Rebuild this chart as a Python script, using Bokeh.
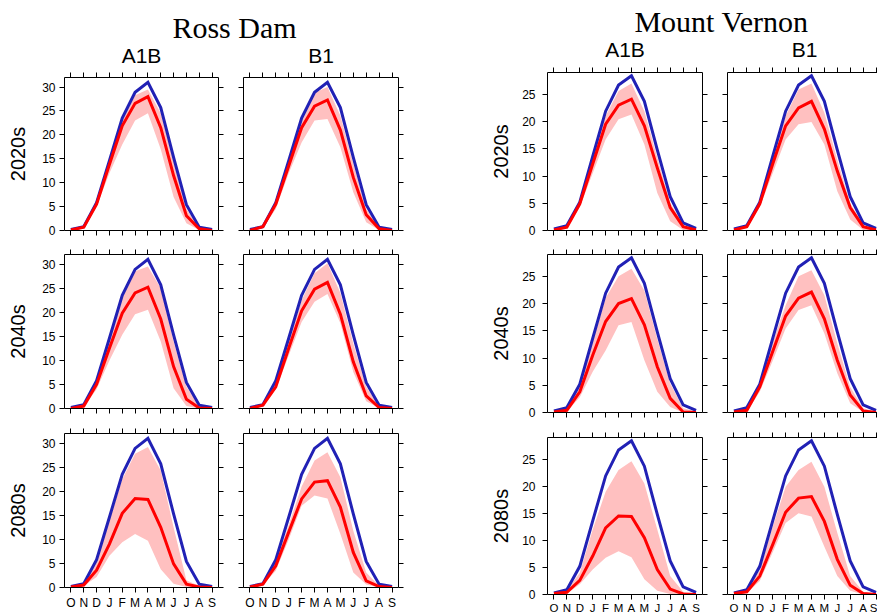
from bokeh.plotting import figure
from bokeh.models import Range1d, FixedTicker, LinearAxis
from bokeh.layouts import row, column
from bokeh.embed import file_html
from bokeh.resources import INLINE
from bokeh.core.properties import value

# ---------------- data ----------------
months = ["O", "N", "D", "J", "F", "M", "A", "M", "J", "J", "A", "S"]
scenarios = ["A1B", "B1"]
periods = ["2020s", "2040s", "2080s"]
ross_yticks = [0, 5, 10, 15, 20, 25, 30]
mv_yticks = [0, 5, 10, 15, 20, 25]

# Ross Dam historical (blue)
ross_hist = [0.2, 0.8, 5.8, 14.6, 23.5, 28.9, 31.0, 25.7, 15.3, 5.4, 0.7, 0.2]
# Ross Dam A1B
ross_a1b_2020_mean = [0.1, 0.7, 5.5, 13.8, 21.9, 26.6, 28.0, 21.5, 11.5, 3.1, 0.35, 0.0]
ross_a1b_2020_hi = [0.2, 0.9, 6.5, 15.0, 23.5, 28.3, 29.5, 24.5, 14.5, 4.5, 0.7, 0.1]
ross_a1b_2020_lo = [0.0, 0.5, 5.0, 12.0, 18.0, 23.0, 24.5, 17.0, 7.0, 1.5, 0.1, 0.0]
ross_a1b_2040_mean = [0.0, 0.5, 5.0, 12.5, 19.8, 24.0, 25.2, 18.6, 8.7, 1.9, 0.1, 0.0]
ross_a1b_2040_hi = [0.1, 0.8, 6.0, 14.5, 23.0, 28.5, 29.5, 25.0, 14.0, 4.5, 0.5, 0.1]
ross_a1b_2040_lo = [0.0, 0.3, 4.0, 10.0, 15.3, 19.6, 20.5, 13.9, 4.2, 0.5, 0.0, 0.0]
ross_a1b_2080_mean = [0.1, 0.5, 3.6, 9.0, 15.4, 18.5, 18.3, 12.5, 4.9, 0.7, 0.1, 0.0]
ross_a1b_2080_hi = [0.2, 0.8, 5.5, 14.0, 22.5, 27.8, 29.2, 24.3, 12.5, 1.5, 0.3, 0.1]
ross_a1b_2080_lo = [0.0, 0.3, 2.2, 6.6, 9.4, 11.1, 9.7, 3.8, 0.8, 0.1, 0.0, 0.0]
# Ross Dam B1
ross_b1_2020_mean = [0.0, 0.8, 5.5, 13.5, 21.5, 26.0, 27.3, 21.0, 11.1, 3.3, 0.35, 0.0]
ross_b1_2020_hi = [0.2, 1.0, 6.5, 15.0, 23.5, 28.8, 30.0, 24.0, 14.0, 4.5, 0.7, 0.1]
ross_b1_2020_lo = [0.0, 0.5, 4.5, 12.0, 18.4, 23.0, 23.3, 17.4, 8.0, 1.7, 0.1, 0.0]
ross_b1_2040_mean = [0.0, 0.7, 4.5, 12.5, 20.3, 24.8, 26.2, 19.6, 9.7, 2.6, 0.2, 0.0]
ross_b1_2040_hi = [0.1, 0.9, 5.8, 14.0, 22.5, 28.1, 30.2, 24.0, 13.5, 4.5, 0.5, 0.1]
ross_b1_2040_lo = [0.0, 0.5, 4.0, 11.0, 18.0, 22.2, 23.8, 17.7, 7.6, 1.5, 0.1, 0.0]
ross_b1_2080_mean = [0.1, 0.7, 4.5, 11.5, 18.4, 21.9, 22.2, 16.7, 7.3, 1.4, 0.2, 0.0]
ross_b1_2080_hi = [0.2, 0.9, 5.5, 13.0, 21.0, 26.4, 28.1, 22.9, 11.8, 3.1, 0.3, 0.1]
ross_b1_2080_lo = [0.0, 0.5, 3.5, 10.0, 17.0, 19.1, 18.5, 11.1, 3.1, 0.6, 0.0, 0.0]

# Mount Vernon historical (blue)
mv_hist = [0.3, 0.9, 5.2, 13.6, 21.9, 26.7, 28.4, 23.7, 14.8, 6.2, 1.4, 0.4]
# Mount Vernon A1B
mv_a1b_2020_mean = [0.1, 0.6, 4.9, 12.2, 19.5, 23.0, 24.1, 19.2, 11.5, 4.2, 0.7, 0.1]
mv_a1b_2020_hi = [0.3, 0.9, 5.3, 13.5, 21.0, 25.6, 27.0, 21.9, 13.4, 5.1, 1.0, 0.2]
mv_a1b_2020_lo = [0.0, 0.4, 4.3, 10.5, 16.7, 20.4, 21.3, 15.8, 6.9, 1.7, 0.1, 0.0]
mv_a1b_2040_mean = [0.1, 0.4, 3.8, 10.5, 16.7, 20.0, 20.9, 16.1, 8.4, 2.6, 0.1, 0.0]
mv_a1b_2040_hi = [0.2, 0.8, 5.0, 13.0, 21.0, 25.0, 26.4, 22.4, 13.5, 5.3, 0.8, 0.2]
mv_a1b_2040_lo = [0.0, 0.2, 2.8, 7.5, 11.4, 16.0, 16.6, 9.6, 3.8, 1.0, 0.0, 0.0]
mv_a1b_2080_mean = [0.2, 0.4, 2.6, 7.1, 12.3, 14.5, 14.4, 10.5, 4.6, 1.0, 0.1, 0.0]
mv_a1b_2080_hi = [0.3, 0.8, 4.0, 12.0, 19.0, 23.0, 24.6, 20.5, 12.0, 3.4, 0.5, 0.1]
mv_a1b_2080_lo = [0.0, 0.2, 1.9, 4.6, 6.8, 8.0, 6.9, 2.8, 0.7, 0.1, 0.0, 0.0]
# Mount Vernon B1
mv_b1_2020_mean = [0.1, 0.7, 4.9, 12.2, 19.2, 22.5, 23.7, 18.6, 10.9, 4.2, 0.7, 0.1]
mv_b1_2020_hi = [0.3, 0.9, 5.4, 13.5, 21.0, 25.9, 27.0, 21.6, 13.0, 5.0, 1.0, 0.2]
mv_b1_2020_lo = [0.0, 0.4, 4.3, 10.5, 16.7, 19.5, 19.9, 15.8, 7.2, 2.0, 0.1, 0.0]
mv_b1_2040_mean = [0.1, 0.4, 4.7, 11.2, 17.7, 21.0, 22.1, 17.2, 9.6, 3.2, 0.3, 0.0]
mv_b1_2040_hi = [0.2, 0.8, 5.5, 13.0, 19.7, 25.0, 26.1, 21.5, 12.7, 4.7, 0.8, 0.2]
mv_b1_2040_lo = [0.0, 0.2, 3.8, 9.5, 15.4, 18.8, 19.7, 14.5, 7.2, 1.7, 0.1, 0.0]
mv_b1_2080_mean = [0.2, 0.5, 3.4, 9.2, 15.2, 17.8, 18.1, 13.5, 6.5, 1.7, 0.2, 0.0]
mv_b1_2080_hi = [0.3, 0.8, 4.5, 12.5, 19.9, 23.0, 24.5, 19.9, 11.4, 3.4, 0.5, 0.1]
mv_b1_2080_lo = [0.0, 0.3, 2.5, 7.8, 13.2, 15.0, 14.4, 8.8, 3.4, 0.7, 0.0, 0.0]

# ---------------- style ----------------
SANS = "Liberation Sans"
SERIF = "Liberation Serif"
BLUE = "#2121B5"
RED = "#FF0000"
PINK = "#FFC0C0"
xs = list(range(len(months)))


def make_axis(ticks, show, overrides=None, font_size="12px", standoff=4,
              label=None, label_standoff=8):
    ax = LinearAxis(ticker=FixedTicker(ticks=ticks, minor_ticks=[]))
    ax.major_tick_in = 0
    ax.major_tick_out = 5
    ax.minor_tick_in = 0
    ax.minor_tick_out = 0
    ax.axis_line_color = "black"
    ax.axis_line_width = 1
    ax.major_tick_line_color = "black"
    ax.major_tick_line_width = 1
    if show:
        if overrides:
            ax.major_label_overrides = overrides
        ax.major_label_text_font = SANS
        ax.major_label_text_font_size = font_size
        ax.major_label_text_color = "black"
        ax.major_label_standoff = standoff
    else:
        ax.major_label_overrides = {t: "" for t in ticks}
        ax.major_label_text_font_size = "0px"
        ax.major_label_standoff = 0
    if label:
        ax.axis_label = label
        ax.axis_label_text_font = SANS
        ax.axis_label_text_font_size = "20px"
        ax.axis_label_text_font_style = "normal"
        ax.axis_label_text_color = "black"
        ax.axis_label_standoff = label_standoff
    return ax


def panel(hist, mean, lo, hi, ymax, yticks, fw, fh, bl, br, bt, bb, xend,
          left_labels, bottom_labels, row_label, right_axis,
          ylab_standoff, lab_standoff, xfont, xstandoff):
    p = figure(width=bl + fw + br, height=bt + fh + bb, title=None,
               x_range=Range1d(-0.5, xend), y_range=Range1d(0, ymax),
               output_backend="svg", toolbar_location=None,
               x_axis_location=None, y_axis_location=None,
               min_border_left=bl, min_border_right=br,
               min_border_top=bt, min_border_bottom=bb,
               outline_line_color=None,
               background_fill_color="white", border_fill_color="white")
    p.xgrid.visible = False
    p.ygrid.visible = False
    p.varea(x=xs, y1=lo, y2=hi, fill_color=PINK, fill_alpha=1.0)
    p.line(xs, hist, line_color=BLUE, line_width=3, line_join="miter")
    p.line(xs, mean, line_color=RED, line_width=3, line_join="miter")

    p.add_layout(make_axis(yticks, left_labels, standoff=ylab_standoff,
                           label=row_label if left_labels else None,
                           label_standoff=lab_standoff), "left")
    if right_axis:
        p.add_layout(make_axis(yticks, False), "right")
    p.add_layout(make_axis(xs, False), "above")
    p.add_layout(make_axis(xs, bottom_labels,
                           overrides={i: m for i, m in enumerate(months)},
                           font_size=xfont, standoff=xstandoff), "below")
    return p


def header(x0, x1, h, items):
    # y data = distance from the bottom of the header strip
    p = figure(width=x1 - x0, height=h, title=None, x_range=Range1d(x0, x1),
               y_range=Range1d(0, h), output_backend="svg",
               toolbar_location=None, min_border=0,
               min_border_left=0, min_border_right=0,
               min_border_top=0, min_border_bottom=0,
               x_axis_location=None, y_axis_location=None,
               outline_line_color=None, border_fill_color="white",
               background_fill_color="white")
    p.xgrid.visible = False
    p.ygrid.visible = False
    for tx, ty, txt, font, size in items:
        p.text(x=[tx], y=[h - ty], text=[txt], text_font=value(font),
               text_font_size=size, text_align="center",
               text_baseline="middle", text_color="black")
    return p


# ---------------- panels ----------------
ross_data = {
    ("A1B", "2020s"): (ross_a1b_2020_mean, ross_a1b_2020_lo, ross_a1b_2020_hi),
    ("A1B", "2040s"): (ross_a1b_2040_mean, ross_a1b_2040_lo, ross_a1b_2040_hi),
    ("A1B", "2080s"): (ross_a1b_2080_mean, ross_a1b_2080_lo, ross_a1b_2080_hi),
    ("B1", "2020s"): (ross_b1_2020_mean, ross_b1_2020_lo, ross_b1_2020_hi),
    ("B1", "2040s"): (ross_b1_2040_mean, ross_b1_2040_lo, ross_b1_2040_hi),
    ("B1", "2080s"): (ross_b1_2080_mean, ross_b1_2080_lo, ross_b1_2080_hi),
}
mv_data = {
    ("A1B", "2020s"): (mv_a1b_2020_mean, mv_a1b_2020_lo, mv_a1b_2020_hi),
    ("A1B", "2040s"): (mv_a1b_2040_mean, mv_a1b_2040_lo, mv_a1b_2040_hi),
    ("A1B", "2080s"): (mv_a1b_2080_mean, mv_a1b_2080_lo, mv_a1b_2080_hi),
    ("B1", "2020s"): (mv_b1_2020_mean, mv_b1_2020_lo, mv_b1_2020_hi),
    ("B1", "2040s"): (mv_b1_2040_mean, mv_b1_2040_lo, mv_b1_2040_hi),
    ("B1", "2080s"): (mv_b1_2080_mean, mv_b1_2080_lo, mv_b1_2080_hi),
}

# layout geometry (pixels)
R_W = 472
R_HEAD = 70
R_ROWS = [(7, 153, 12), (12, 154, 12), (13, 154, 29)]   # top border, frame h, bottom border
R_COLS = [(64, 154, 12), (13, 155, 74)]                  # left border, frame w, right border
R_YMAX = 32

M_X0 = 472
M_HEAD = 60
M_ROWS = [(12, 158, 12), (12, 158, 13), (12, 158, 21)]
M_COLS = [(75, 155, 12), (13, 150, 0)]
M_YMAX = 29
M_UNIT = 155 / 12.0


def build_group(data, hist, ymax, yticks, rows_geo, cols_geo, xends, right_axes,
                ylab_standoff, lab_standoff, xfont, xstandoff):
    rows = []
    for ri, per in enumerate(periods):
        bt, fh, bb = rows_geo[ri]
        figs = []
        for ci, sc in enumerate(scenarios):
            bl, fw, br = cols_geo[ci]
            mean, lo, hi = data[(sc, per)]
            figs.append(panel(hist, mean, lo, hi, ymax, yticks, fw, fh, bl, br, bt, bb,
                              xends[ci], ci == 0, ri == len(periods) - 1, per,
                              right_axes[ci], ylab_standoff, lab_standoff,
                              xfont, xstandoff))
        rows.append(row(*figs))
    return rows


ross_rows = build_group(ross_data, ross_hist, R_YMAX, ross_yticks, R_ROWS, R_COLS,
                        [11.5, 11.5], [True, True], 4, 10, "12px", 3)
mv_rows = build_group(mv_data, mv_hist, M_YMAX, mv_yticks, M_ROWS, M_COLS,
                      [11.5, -0.5 + M_COLS[1][1] / M_UNIT], [True, False], 7, 7,
                      "11.5px", 2)

# header texts: centred over the panel frames (y = text centre from top)
r_c1 = R_COLS[0][0] + R_COLS[0][1] / 2
r_c2 = R_COLS[0][0] + R_COLS[0][1] + R_COLS[0][2] + R_COLS[1][0] + R_COLS[1][1] / 2
m_c1 = M_X0 + M_COLS[0][0] + M_COLS[0][1] / 2
m_c2 = M_X0 + M_COLS[0][0] + M_COLS[0][1] + M_COLS[0][2] + M_COLS[1][0] + 154 / 2

ross_head = header(0, R_W, R_HEAD, [
    (234, 27, "Ross Dam", SERIF, "30px"),
    (r_c1, 54.5, scenarios[0], SANS, "21px"),
    (r_c2, 54.5, scenarios[1], SANS, "21px"),
])
mv_head = header(M_X0, 877, M_HEAD, [
    (721, 21, "Mount Vernon", SERIF, "30px"),
    (m_c1, 49, scenarios[0], SANS, "21px"),
    (m_c2, 49, scenarios[1], SANS, "21px"),
])

layout = row(column(ross_head, *ross_rows), column(mv_head, *mv_rows))

open("out.html", "w").write(file_html(layout, INLINE))
